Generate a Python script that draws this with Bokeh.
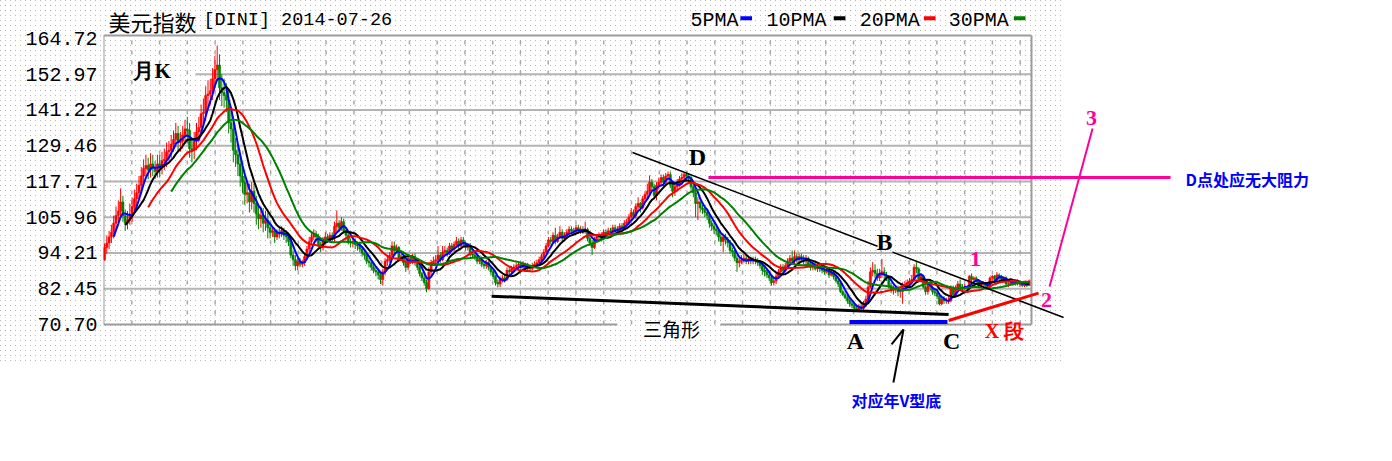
import numpy as np
import pandas as pd
from bokeh.plotting import figure
from bokeh.models import Range1d, FixedTicker, PrintfTickFormatter, ColumnDataSource
from bokeh.core.properties import value
from bokeh.embed import file_html
from bokeh.resources import INLINE

# ---------------- data (monthly bars, Jan 1981 .. Jul 2014) ----------------
TITLE_NAME = "美元指数"
TITLE_CODE = "[DINI] 2014-07-26"
PERIOD_LABEL = "月K"
FIRST_OPEN = 92.0
CLOSE = [
    96.0, 97.5, 99.5, 101.0, 104.0, 106.5, 108.0, 111.0, 106.5, 104.0, 105.0, 107.0,
    109.5, 112.0, 114.0, 116.5, 119.5, 122.0, 123.0, 121.5, 123.5, 122.0, 121.0, 123.5,
    122.5, 124.5, 125.0, 127.5, 128.0, 130.0, 131.5, 133.5, 130.5, 131.0, 133.0, 135.0,
    134.5, 128.5, 128.0, 131.0, 134.0, 135.5, 140.0, 140.5, 146.0, 146.5, 147.5, 151.5,
    154.5, 156.0, 148.5, 147.0, 146.0, 144.5, 137.0, 135.0, 128.0, 126.5, 123.5, 119.5,
    117.5, 113.5, 114.0, 111.0, 114.5, 110.5, 107.0, 105.5, 106.5, 104.0, 105.0, 102.5,
    101.0, 101.5, 99.5, 101.0, 100.5, 101.5, 100.0, 99.5, 98.0, 93.5, 92.0, 90.0,
    91.5, 90.5, 91.0, 93.0, 95.5, 98.0, 99.5, 100.5, 99.5, 97.0, 96.0, 98.5,
    99.5, 98.5, 100.0, 99.0, 103.0, 104.0, 102.5, 104.5, 101.5, 100.0, 98.0, 97.5,
    98.0, 97.0, 96.5, 95.5, 94.0, 93.5, 91.5, 91.0, 89.5, 88.5, 88.0, 87.0,
    85.5, 88.0, 91.5, 92.0, 93.5, 96.5, 95.0, 96.0, 92.5, 93.0, 91.0, 89.5,
    92.5, 91.5, 93.0, 91.0, 89.5, 87.5, 86.0, 84.5, 82.5, 88.0, 91.0, 91.5,
    92.0, 93.5, 92.0, 94.5, 95.0, 94.0, 96.5, 95.5, 97.0, 98.0, 96.5, 98.5,
    97.5, 96.0, 96.5, 94.0, 93.5, 93.0, 91.5, 92.0, 90.5, 90.0, 91.0, 89.5,
    88.0, 86.5, 84.5, 84.0, 85.5, 86.0, 85.5, 88.5, 88.0, 89.0, 89.5, 90.0,
    90.5, 89.5, 90.5, 89.0, 90.0, 89.0, 90.0, 90.5, 91.0, 92.0, 93.0, 94.5,
    96.5, 98.5, 98.0, 100.0, 98.0, 99.5, 101.0, 99.0, 100.0, 101.0, 102.0, 101.5,
    101.0, 102.5, 101.5, 102.0, 101.5, 102.0, 99.0, 97.5, 96.0, 98.5, 99.5, 100.0,
    99.0, 101.0, 100.5, 101.5, 101.0, 102.5, 101.5, 102.0, 103.0, 102.5, 104.0, 104.5,
    106.0, 107.5, 106.5, 109.5, 110.5, 109.0, 112.0, 113.5, 114.5, 117.5, 116.0, 113.0,
    116.5, 117.5, 119.0, 117.5, 119.5, 120.0, 116.5, 114.5, 116.0, 117.0, 118.5, 119.0,
    120.0, 119.5, 119.0, 116.0, 114.0, 110.5, 111.0, 109.0, 108.5, 107.5, 106.5, 104.0,
    103.0, 102.0, 101.5, 99.5, 98.0, 99.5, 98.5, 97.5, 95.0, 94.5, 92.5, 91.0,
    91.5, 92.0, 92.5, 91.5, 92.0, 91.5, 92.0, 91.5, 91.0, 90.0, 88.5, 88.0,
    87.0, 86.0, 84.5, 85.0, 86.5, 88.0, 89.5, 88.5, 90.0, 91.5, 92.5, 91.5,
    93.0, 92.0, 93.0, 92.5, 91.5, 92.5, 90.5, 89.5, 90.0, 89.0, 89.5, 89.0,
    88.5, 88.0, 88.5, 87.0, 87.5, 86.5, 85.0, 84.0, 81.5, 80.5, 79.5, 78.5,
    77.5, 77.0, 76.0, 75.5, 76.5, 76.0, 77.5, 79.0, 83.0, 88.0, 88.5, 87.5,
    86.0, 87.0, 88.0, 87.0, 86.0, 83.5, 82.0, 82.0, 82.5, 81.5, 81.5, 83.5,
    83.5, 84.5, 85.0, 85.5, 89.5, 89.0, 85.5, 86.5, 83.0, 81.5, 84.5, 83.0,
    81.5, 81.0, 80.0, 77.5, 79.0, 78.5, 78.5, 78.5, 82.5, 80.5, 82.5, 84.0,
    83.0, 82.5, 83.0, 82.5, 86.5, 85.5, 86.0, 85.0, 83.5, 84.0, 84.0, 83.5,
    83.0, 86.0, 86.5, 85.5, 87.0, 86.5, 85.5, 86.0, 84.0, 84.0, 84.5, 84.0,
    85.0, 84.0, 84.0, 83.5, 84.5, 83.5, 85.0,
]
HIGH = [
    97.3, 100.0, 101.5, 103.5, 106.5, 109.5, 111.5, 115.4, 113.0, 108.5, 108.0, 110.5,
    112.5, 115.0, 117.0, 119.5, 122.5, 125.0, 126.5, 125.5, 127.0, 126.5, 124.5, 126.5,
    126.5, 127.5, 128.5, 130.5, 131.0, 133.0, 134.5, 137.0, 136.0, 134.0, 136.0, 138.0,
    139.0, 137.0, 131.5, 134.0, 137.0, 139.0, 143.0, 145.0, 149.0, 151.0, 151.5, 155.0,
    159.0, 162.4, 159.5, 153.0, 151.5, 150.0, 148.0, 141.0, 138.5, 132.0, 130.0, 127.0,
    122.5, 120.0, 117.5, 117.0, 117.5, 117.0, 113.0, 110.0, 109.5, 109.0, 108.0, 107.5,
    104.0, 103.0, 102.5, 102.0, 102.5, 103.0, 102.5, 101.5, 100.5, 99.5, 95.0, 93.5,
    93.0, 92.5, 92.0, 94.0, 96.5, 99.5, 101.0, 102.0, 101.5, 100.5, 98.0, 99.5,
    101.0, 100.5, 101.0, 101.0, 104.5, 108.2, 105.0, 106.0, 105.5, 102.5, 101.0, 99.0,
    99.5, 99.0, 98.0, 97.5, 96.5, 95.0, 94.5, 92.5, 92.0, 90.5, 89.5, 89.0,
    88.0, 89.0, 92.5, 93.5, 94.5, 98.0, 98.0, 97.0, 96.5, 94.0, 94.0, 92.0,
    93.5, 93.5, 94.0, 94.0, 92.0, 90.0, 88.0, 87.0, 85.5, 89.5, 92.0, 93.0,
    93.5, 96.5, 94.5, 96.5, 96.5, 96.0, 97.5, 97.5, 98.0, 99.5, 99.0, 99.5,
    99.5, 98.0, 97.5, 97.5, 95.0, 94.5, 94.0, 93.0, 93.0, 91.5, 92.0, 91.5,
    90.0, 89.0, 87.0, 85.5, 86.5, 87.0, 87.0, 89.5, 89.5, 90.0, 90.5, 91.0,
    91.5, 91.0, 91.5, 91.0, 91.0, 90.5, 91.0, 91.5, 92.0, 93.0, 94.0, 95.5,
    97.5, 99.5, 99.5, 101.0, 102.5, 100.5, 103.0, 102.0, 101.0, 102.0, 103.0, 103.0,
    102.5, 103.5, 103.5, 103.0, 103.0, 104.5, 102.5, 100.0, 98.5, 99.5, 100.5, 101.0,
    101.0, 102.0, 102.0, 102.5, 102.5, 103.5, 103.5, 103.0, 104.0, 104.0, 105.0, 105.5,
    107.0, 109.0, 108.5, 110.5, 112.5, 111.0, 113.0, 114.5, 117.0, 119.7, 118.5, 117.0,
    117.5, 119.0, 120.0, 120.0, 120.5, 121.0, 121.0, 117.5, 117.5, 118.5, 119.5, 120.5,
    120.8, 121.0, 120.5, 119.5, 117.0, 115.0, 112.5, 112.0, 110.0, 110.0, 108.5, 107.5,
    105.0, 104.0, 103.5, 102.5, 100.5, 100.5, 100.5, 99.5, 98.5, 96.0, 95.5, 93.5,
    92.5, 93.5, 94.0, 93.5, 93.0, 93.0, 93.0, 93.0, 92.5, 91.5, 90.5, 89.5,
    89.0, 88.0, 87.0, 86.0, 87.5, 89.0, 90.5, 90.5, 91.0, 92.5, 93.5, 95.0,
    95.0, 94.0, 94.0, 94.0, 93.5, 93.5, 93.0, 91.0, 91.0, 91.0, 90.5, 90.5,
    90.0, 89.5, 89.5, 89.0, 88.5, 88.5, 87.0, 86.0, 84.5, 82.0, 81.5, 80.5,
    79.5, 78.5, 78.0, 77.0, 77.5, 77.5, 78.5, 80.0, 85.0, 89.5, 91.2, 90.5,
    89.0, 89.0, 92.3, 89.5, 88.0, 87.0, 84.5, 83.5, 83.5, 83.5, 82.5, 84.5,
    85.0, 85.5, 86.0, 87.0, 90.5, 91.7, 89.5, 87.5, 87.0, 83.5, 85.5, 85.5,
    83.5, 82.5, 81.5, 80.5, 80.0, 80.0, 79.5, 80.0, 83.5, 83.5, 83.5, 85.0,
    85.5, 84.0, 84.0, 83.5, 87.0, 87.5, 86.5, 86.5, 85.5, 84.5, 85.0, 84.5,
    84.0, 86.5, 87.0, 87.0, 87.9, 87.5, 87.0, 86.5, 86.5, 85.0, 85.0, 85.0,
    85.5, 85.5, 85.0, 84.5, 85.0, 85.0, 85.5,
]
LOW = [
    91.7, 94.0, 95.5, 97.5, 99.0, 102.0, 104.5, 106.0, 104.5, 101.5, 102.0, 103.5,
    104.5, 107.5, 109.5, 112.0, 114.5, 117.5, 119.5, 118.5, 119.0, 119.5, 118.5, 119.0,
    119.0, 120.0, 121.5, 122.5, 124.5, 125.5, 127.5, 129.0, 127.5, 127.5, 128.5, 130.5,
    130.5, 125.5, 124.0, 125.0, 128.0, 130.5, 132.5, 136.5, 137.5, 142.0, 143.0, 144.5,
    148.5, 151.0, 144.5, 142.5, 142.0, 140.5, 133.5, 130.5, 124.0, 122.5, 119.5, 116.0,
    114.0, 110.0, 110.5, 107.5, 108.5, 107.5, 103.5, 102.0, 102.5, 101.0, 101.5, 99.0,
    99.0, 99.5, 97.5, 98.5, 99.0, 99.5, 98.5, 97.5, 96.5, 92.5, 90.0, 88.5,
    88.5, 89.5, 89.5, 90.0, 92.0, 94.5, 97.0, 98.5, 98.0, 96.0, 94.5, 95.0,
    97.0, 97.5, 97.5, 98.0, 98.0, 101.0, 101.0, 101.5, 100.5, 98.5, 97.0, 96.0,
    96.0, 95.5, 95.0, 94.5, 93.0, 92.0, 90.5, 89.5, 88.5, 87.5, 86.5, 85.5,
    84.0, 83.5, 87.0, 90.0, 91.0, 92.5, 94.0, 94.0, 91.5, 91.5, 90.0, 88.0,
    88.5, 90.5, 90.5, 90.0, 88.5, 86.5, 85.0, 83.5, 81.3, 82.0, 87.0, 90.0,
    90.5, 91.0, 91.0, 91.5, 93.5, 93.0, 93.5, 94.5, 94.5, 96.0, 95.5, 96.0,
    96.5, 95.0, 95.0, 93.0, 92.5, 92.0, 90.5, 90.5, 89.5, 89.0, 89.0, 88.5,
    87.0, 85.5, 83.5, 82.9, 83.0, 84.5, 84.5, 85.0, 87.0, 87.5, 88.0, 89.0,
    89.0, 88.5, 89.0, 88.0, 88.5, 88.0, 88.5, 89.5, 90.0, 90.5, 91.5, 92.5,
    94.0, 96.0, 97.0, 97.5, 97.0, 97.5, 99.0, 98.0, 98.0, 99.0, 100.0, 100.5,
    100.0, 100.5, 100.5, 100.5, 100.5, 100.5, 98.0, 96.5, 93.5, 95.5, 97.5, 98.5,
    98.0, 98.5, 99.5, 100.0, 100.0, 100.5, 100.5, 100.5, 101.0, 101.5, 102.0, 103.5,
    103.5, 105.0, 105.5, 105.5, 108.5, 107.5, 108.5, 111.0, 112.0, 113.5, 114.5, 112.0,
    111.5, 115.0, 116.5, 116.0, 116.5, 118.5, 115.5, 112.5, 113.0, 114.5, 116.0, 117.5,
    117.5, 118.0, 117.0, 115.0, 112.5, 106.0, 105.0, 107.5, 107.0, 106.0, 105.0, 102.5,
    101.5, 100.5, 100.0, 98.0, 96.5, 94.5, 97.0, 96.0, 94.0, 93.0, 91.5, 88.0,
    89.5, 90.5, 91.0, 90.5, 90.5, 90.5, 90.5, 90.5, 90.0, 89.0, 87.0, 86.5,
    86.0, 85.0, 83.5, 83.5, 84.0, 86.0, 87.5, 87.5, 88.0, 89.5, 91.0, 90.5,
    90.5, 91.0, 91.0, 91.5, 90.5, 90.5, 90.0, 88.5, 88.5, 88.5, 88.0, 88.0,
    87.5, 87.0, 87.5, 86.0, 86.5, 85.5, 84.5, 83.0, 81.0, 80.0, 79.0, 77.5,
    76.5, 76.0, 75.3, 75.0, 75.0, 75.5, 75.5, 77.0, 78.5, 82.5, 86.5, 86.0,
    85.0, 85.0, 86.0, 85.5, 85.0, 82.5, 81.0, 80.5, 81.0, 80.0, 79.5, 77.5,
    82.0, 82.5, 83.5, 84.0, 85.0, 87.5, 85.0, 84.5, 82.5, 80.5, 80.5, 82.0,
    80.5, 80.0, 79.0, 77.0, 77.0, 77.5, 77.5, 77.5, 78.0, 79.5, 80.0, 82.0,
    82.0, 82.0, 82.0, 82.0, 82.0, 84.5, 84.5, 84.0, 83.0, 83.0, 83.0, 83.0,
    82.5, 82.5, 85.0, 84.5, 85.0, 85.0, 85.0, 85.0, 83.5, 83.0, 83.5, 83.5,
    83.5, 83.5, 83.0, 83.0, 83.0, 83.0, 83.5,
]
YTICKS = [70.70, 82.45, 94.21, 105.96, 117.71, 129.46, 141.22, 152.97, 164.72]
MA_PERIODS = [5, 10, 20, 30]
MA_NAMES = ["5PMA", "10PMA", "20PMA", "30PMA"]

# ---------------- styling ----------------
UP_COLOR = "#ff0000"
DOWN_COLOR = "#008000"
MA_COLORS = ["#0000ff", "#000000", "#ff0000", "#008000"]
PINK = "#ff0099"
BLUE = "#0000ff"
GRID = "#b4b4b4"
BORDER = "#9c9c9c"
MONO = value("Liberation Mono")
SERIF = value("Liberation Serif")
CJK = value("Noto Sans CJK SC")

X_LEFT, X_RIGHT = -0.4348, 403.04      # chart box (month index)
Y_BOT, Y_TOP = 70.70, 165.7            # chart box (price)

p = figure(width=1384, height=453, output_backend="svg", toolbar_location=None, tools="",
           x_range=Range1d(-0.4348, 556.52), y_range=Range1d(28.29, 177.21),
           x_axis_location=None, min_border_left=103, min_border_right=0,
           min_border_top=0, min_border_bottom=0)
p.outline_line_color = None
p.background_fill_color = None
p.border_fill_color = None
p.xgrid.visible = False
p.ygrid.visible = False

dot = ("data:image/svg+xml;utf8,<svg xmlns='http://www.w3.org/2000/svg' width='5' height='5'>"
       "<rect x='0' y='0' width='1' height='1' fill='%23b8b8b8'/></svg>")
p.styles = {
    "background-image": f"linear-gradient(#ffffff,#ffffff), linear-gradient(#ffffff,#ffffff), url(\"{dot}\")",
    "background-position": "1065px 0px, 0px 365px, 0px 0px",
    "background-size": "400px 100%, 100% 200px, 5px 5px",
    "background-repeat": "no-repeat, no-repeat, repeat",
}

ax = p.yaxis[0]
ax.ticker = FixedTicker(ticks=YTICKS)
ax.formatter = PrintfTickFormatter(format="%.2f")
ax.major_label_text_font = "Liberation Mono"
ax.major_label_text_font_size = "20px"
ax.major_label_text_color = "#000000"
ax.axis_line_color = None
ax.major_tick_line_color = None
ax.minor_tick_line_color = None
ax.major_tick_out = 0
ax.major_tick_in = 0
ax.minor_tick_out = 0
ax.major_label_standoff = 6

# horizontal grid lines (inner ticks); the 152.97 line starts right of the "月K" label
grid_start = {152.97: 39.6}
gy = YTICKS[1:-1]
p.segment(x0=[grid_start.get(t, X_LEFT) for t in gy], y0=gy, x1=[X_RIGHT] * len(gy), y1=gy,
          line_color=GRID, line_width=2)
# vertical dashed year lines
vx = [11.87 + 12.07 * k for k in range(33)]
p.segment(x0=vx, y0=[Y_BOT] * len(vx), x1=vx, y1=[Y_TOP] * len(vx),
          line_color="#a8a8a8", line_width=1.5, line_dash="4 6")
# chart box (bottom edge broken under "三角形")
p.segment(x0=[X_LEFT, X_LEFT, X_RIGHT, X_LEFT, 267.8], y0=[Y_BOT, Y_TOP, Y_TOP, Y_BOT, Y_BOT],
          x1=[X_LEFT, X_RIGHT, X_RIGHT, 223.0, X_RIGHT], y1=[Y_TOP, Y_TOP, Y_BOT, Y_BOT, Y_BOT],
          line_color=BORDER, line_width=2)

# ---------------- candles ----------------
n = len(CLOSE)
xs = np.arange(n)
opens = np.array([FIRST_OPEN] + CLOSE[:-1])
closes = np.array(CLOSE)
highs = np.maximum(np.array(HIGH), np.maximum(opens, closes))
lows = np.minimum(np.array(LOW), np.minimum(opens, closes))
colors = np.where(closes >= opens, UP_COLOR, DOWN_COLOR)
src = ColumnDataSource(dict(x=xs, h=highs, l=lows, top=np.maximum(opens, closes),
                            bot=np.minimum(opens, closes), color=colors))
p.segment(x0="x", y0="h", x1="x", y1="l", line_color="color", line_width=1, source=src)
p.vbar(x="x", width=0.9, top="top", bottom="bot", fill_color="color", line_color="color",
       line_width=0.6, source=src)

s = pd.Series(CLOSE)
for per, col in zip(MA_PERIODS, MA_COLORS):
    ma = s.rolling(per).mean().values
    p.line(xs[per - 1:], ma[per - 1:], line_color=col, line_width=2)

# ---------------- hand-drawn analysis marks ----------------
p.segment(x0=[229.6, 342.6], y0=[127.24, 94.50], x1=[336.1, 417.0], y1=[96.41, 72.99],
          line_color="#000000", line_width=1.5)                       # upper trend line
p.line([168.3, 367.0], [80.0, 73.99], line_color="#000000", line_width=3)   # triangle base
p.line([262.6, 463.5], [119.02, 119.02], line_color=PINK, line_width=3)     # D level
p.line([429.6, 410.9], [135.13, 83.19], line_color=PINK, line_width=2)      # line to "3"
p.line([367.0, 406.1], [72.01, 81.0], line_color="#ff0000", line_width=3)   # X segment
p.line([323.9, 366.5], [71.52, 71.52], line_color=BLUE, line_width=4)       # A-C bottom
p.segment(x0=[343.0, 342.2], y0=[51.63, 64.13], x1=[347.4, 347.4], y1=[69.06, 69.06],
          line_color="#000000", line_width=2)                               # arrow

def txt(s, x, y, color="#000000", font=SERIF, size="24px", style="bold", align="center"):
    p.text(x=[x], y=[y], text=[s], text_color=color, text_font=font, text_font_size=size,
           text_font_style=style, text_align=align, text_baseline="middle")

txt(TITLE_NAME, 1.74, 170.63, font=CJK, size="22px", style="normal", align="left")
txt(TITLE_CODE, 43.0, 170.63, font=MONO, size="18.5px", style="normal", align="left")
txt(PERIOD_LABEL, 12.6, 153.87, size="21px", align="left")
for name, tx in zip(MA_NAMES, [254.8, 287.8, 328.4, 367.1]):
    txt(name, tx, 170.63, font=MONO, size="20px", style="normal", align="left")
p.rect(x=[279.0, 319.6, 358.8, 397.9], y=[171.39] * 4, width=5.08, height=1.3,
       fill_color=MA_COLORS, line_color=None)

txt("D", 257.8, 125.6)
txt("B", 339.1, 97.66)
txt("A", 326.5, 65.11)
txt("C", 368.3, 65.11)
txt("1", 378.7, 92.07, color=PINK, size="22px")
txt("2", 409.6, 78.59, color=PINK, size="22px")
txt("3", 429.1, 138.42, color=PINK, size="22px")
txt("X 段", 391.3, 68.4, color="#ff0000", size="20px")
txt("三角形", 246.5, 69.22, font=CJK, size="19px", style="normal")
txt("对应年V型底", 344.3, 45.72, color=BLUE, font=CJK, size="16px")
txt("D点处应无大阻力", 470.0, 118.53, color=BLUE, font=CJK, size="16px", align="left")

open("out.html", "w").write(file_html(p, INLINE))
